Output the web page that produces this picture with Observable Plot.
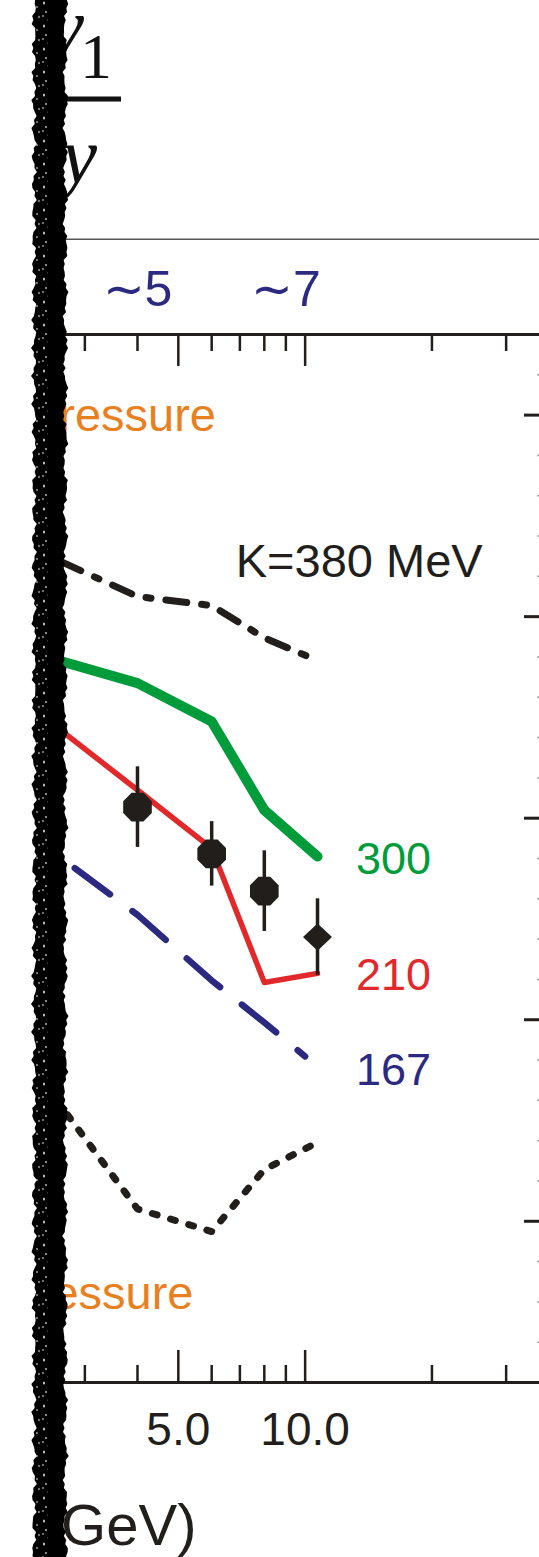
<!DOCTYPE html>
<html>
<head>
<meta charset="utf-8">
<script src="https://cdn.jsdelivr.net/npm/d3@7"></script>
<script src="https://cdn.jsdelivr.net/npm/@observablehq/plot@0.6"></script>
<style>
  html, body { margin: 0; padding: 0; background: #fff; }
  #page { position: relative; width: 539px; height: 1557px; overflow: hidden; background: #fff; }
  #head { position: absolute; left: 0; top: 0; clip-path: inset(0 0 0 48px); }
  #chart { position: absolute; left: 0; top: 240px; clip-path: inset(0 0 0 48px); }
  #edge { position: absolute; left: 0; top: 0; }
</style>
</head>
<body>
<div id="page">
  <!-- y-axis title dv1/dy and the frame line of the panel above -->
  <svg id="head" width="539" height="240">
    <line x1="48" x2="539" y1="239.3" y2="239.3" stroke="#555" stroke-width="1.4"></line>
    <text x="84" y="53" text-anchor="end" font-family="'Liberation Serif', 'Times New Roman', serif" font-style="italic" font-size="80" fill="#111">dv</text>
    <text x="80" y="78" font-family="'Liberation Serif', 'Times New Roman', serif" font-size="64" fill="#111">1</text>
    <rect x="20" y="96.5" width="101" height="5" fill="#111"></rect>
    <text x="97" y="183" text-anchor="end" font-family="'Liberation Serif', 'Times New Roman', serif" font-style="italic" font-size="80" fill="#111">dy</text>
  </svg>
  <div id="chart"></div>
  <svg id="edge" width="80" height="1557"></svg>
</div>
<script>
// Beam energies (GeV) at which the transport calculations were evaluated
const energy = [2, 4, 6, 8, 10.7];
const energy167 = [2, 4, 6, 8, 10];

// Calculated flow for each incompressibility K (MeV)
const flowK380 = [438.7, 410, 405.5, 389.5, 378.2];
const flowK300 = [385, 367, 348, 304, 281];
const flowK210 = [363, 314, 285, 218.5, 223];
const flowK167 = [299, 252, 219.5, 198.6, 181.8];
const flowCascade = [190.7, 106.1, 94.9, 125.7, 139.1];

// Measured flow with uncertainties
const dataEnergy = [4, 6, 8, 10.7];
const dataFlow = [305.5, 282.3, 263.8, 241];
const dataErr = [20, 16, 20, 19];
const dataShape = ["octagon", "octagon", "octagon", "diamond"];

// Axis ticks
const xMajor = [5, 10];
const xMinor = [3, 4, 6, 7, 8, 9, 20, 30];
const topTickEnergy = [4, 9];
const topTickLabels = ["∼5", "∼7"];
const yMajor = [100, 200, 300, 400, 500];
const yMinor = [40, 60, 80, 120, 140, 160, 180, 220, 240, 260, 280, 320, 340, 360, 380, 420, 440, 460, 480, 520];

const ink = "#221e1c";
const navy = "#2b2a80";
const orange = "#e8801f";
const sans = "'Liberation Sans', Arial, Helvetica, sans-serif";

const series = [
  {label: "K=380 MeV", x: energy, y: flowK380, color: ink, width: 7, dash: "21,15,5,15",
   labelAt: 3, dx: -28.6, dy: -75.6, size: 47, labelColor: ink},
  {label: "300", x: energy, y: flowK300, color: "#009b3a", width: 10, dash: null,
   labelAt: 4, dx: 38.4, dy: 3, size: 45, labelColor: "#009b3a"},
  {label: "210", x: energy, y: flowK210, color: "#e1282a", width: 5.5, dash: null,
   labelAt: 4, dx: 38.4, dy: 2, size: 45, labelColor: "#e1282a"},
  {label: "167", x: energy167, y: flowK167, color: navy, width: 6.5, dash: "44,28", offset: -8,
   labelAt: 4, dx: 50.8, dy: 14.6, size: 45, labelColor: navy},
  {label: null, x: energy, y: flowCascade, color: ink, width: 7, dash: "5,14"}
];

const rows = (s) => s.x.map((e, i) => ({energy: e, flow: s.y[i]}));

// Marker shapes for the measured points
const octagon = {
  draw(ctx, size) {
    const r = Math.sqrt(size / Math.PI);
    for (let i = 0; i < 8; ++i) {
      const a = Math.PI / 8 + i * Math.PI / 4;
      const px = r * Math.cos(a), py = r * Math.sin(a);
      if (i) ctx.lineTo(px, py); else ctx.moveTo(px, py);
    }
    ctx.closePath();
  }
};
const diamond = {
  draw(ctx, size) {
    const r = Math.sqrt(size / Math.PI);
    ctx.moveTo(0, -0.94 * r);
    ctx.lineTo(r, 0);
    ctx.lineTo(0, 0.94 * r);
    ctx.lineTo(-r, 0);
    ctx.closePath();
  }
};

const measured = dataEnergy.map((e, i) => ({energy: e, flow: dataFlow[i], err: dataErr[i], shape: dataShape[i]}));
const topLabel = new Map(topTickEnergy.map((e, i) => [e, topTickLabels[i]]));

const lineMarks = series.map((s) => Plot.line(rows(s), {
  x: "energy", y: "flow", stroke: s.color, strokeWidth: s.width,
  strokeDasharray: s.dash, strokeDashoffset: s.offset ?? 0,
  strokeLinecap: "round", strokeLinejoin: "round"
}));

const labelMarks = series.filter((s) => s.label).map((s) => Plot.text([rows(s)[s.labelAt]], {
  x: "energy", y: "flow", text: () => s.label, textAnchor: "start", lineAnchor: "middle",
  dx: s.dx, dy: s.dy, fontSize: s.size, fill: s.labelColor
}));

const chart = Plot.plot({
  width: 539,
  height: 1317,
  marginLeft: 51,
  marginRight: 0,
  marginTop: 94,
  marginBottom: 175,
  x: {type: "log", domain: [2.5, 36]},
  y: {domain: [20, 540]},
  style: {fontFamily: sans, background: "transparent", color: ink},
  marks: [
    // frame lines top and bottom
    Plot.ruleY([540], {stroke: ink, strokeWidth: 3}),
    Plot.ruleY([20], {stroke: ink, strokeWidth: 3}),
    // bottom axis: inward ticks and labels
    Plot.axisX({anchor: "bottom", ticks: xMinor, tickSize: 17, dy: -17, strokeWidth: 2.5, tickFormat: () => "", label: null}),
    Plot.axisX({anchor: "bottom", ticks: xMajor, tickSize: 32, dy: -32, strokeWidth: 2.5, tickFormat: () => "", label: null}),
    Plot.axisX({anchor: "bottom", ticks: xMajor, tickSize: 0, tickPadding: 30, tickFormat: d3.format(".1f"), fontSize: 46, label: null}),
    // top axis: inward ticks and labels
    Plot.axisX({anchor: "top", ticks: xMinor, tickSize: 16, dy: 16, strokeWidth: 2.5, tickFormat: () => "", label: null}),
    Plot.axisX({anchor: "top", ticks: xMajor, tickSize: 31, dy: 31, strokeWidth: 2.5, tickFormat: () => "", label: null}),
    Plot.axisX({anchor: "top", ticks: topTickEnergy, tickSize: 0, tickPadding: 29, tickFormat: (d) => topLabel.get(d), fontSize: 50, color: navy, label: null}),
    // right-hand axis of the neighbouring panel
    Plot.axisY({anchor: "right", ticks: yMajor, tickSize: 16, dx: -16, strokeWidth: 3, tickFormat: () => "", label: null}),
    Plot.axisY({anchor: "right", ticks: yMinor, tickSize: 3, dx: -3, strokeWidth: 1.5, color: "#a8a8a8", tickFormat: () => "", label: null}),
    // calculations
    ...lineMarks,
    ...labelMarks,
    // measurements
    Plot.ruleX(measured, {x: "energy", y1: (d) => d.flow - d.err, y2: (d) => d.flow + d.err, stroke: ink, strokeWidth: 3.5}),
    Plot.dot(measured.filter((d) => d.shape === "octagon"), {x: "energy", y: "flow", r: 15.5, symbol: octagon, fill: ink, stroke: null}),
    Plot.dot(measured.filter((d) => d.shape === "diamond"), {x: "energy", y: "flow", r: 14.5, symbol: diamond, fill: ink, stroke: null}),
    // annotations
    Plot.text(["more pressure"], {text: (d) => d, frameAnchor: "top-left", dx: 164.5, dy: 96, textAnchor: "end", lineAnchor: "bottom", fontSize: 47, fill: orange}),
    Plot.text(["less pressure"], {text: (d) => d, frameAnchor: "bottom-left", dx: 142, dy: -74, textAnchor: "end", lineAnchor: "bottom", fontSize: 47, fill: orange}),
    Plot.text(["Beam energy (GeV)"], {text: (d) => d, frameAnchor: "bottom-left", dx: 145, dy: 162, textAnchor: "end", lineAnchor: "bottom", fontSize: 58, fill: ink})
  ]
});
document.getElementById("chart").append(chart);

// torn left margin of the page
(function drawEdge() {
  const svg = d3.select("#edge");
  const left = [], right = [];
  for (let y = 0; y <= 1560; y += 4) {
    left.push([34 + 1.8 * Math.sin(y * 0.23) + 1.2 * Math.sin(y * 0.91 + 2), y]);
    right.push([65.5 + 1.6 * Math.sin(y * 0.13 + 1) + 1.1 * Math.sin(y * 0.67)  + 0.6 * Math.sin(y * 1.9), y]);
  }
  const pts = left.concat(right.reverse());
  svg.append("path").attr("d", "M" + pts.map((p) => p.join(",")).join("L") + "Z").attr("fill", "#000");
  const defs = svg.append("defs");
  const pat = defs.append("pattern").attr("id", "speck").attr("width", 14).attr("height", 23).attr("patternUnits", "userSpaceOnUse");
  [[2, 3, 0.8, 1.6], [9, 7, 0.6, 1.1], [4, 12, 1.0, 0.7], [11, 17, 0.5, 1.3], [6, 20, 0.5, 0.6], [1, 16, 0.6, 0.9]].forEach(([cx, cy, rx, ry]) =>
    pat.append("ellipse").attr("cx", cx).attr("cy", cy).attr("rx", rx).attr("ry", ry).attr("fill", "#fff"));
  svg.append("rect").attr("x", 35).attr("y", 0).attr("width", 13).attr("height", 1557).attr("fill", "url(#speck)");
})();
</script>
</body>
</html>
